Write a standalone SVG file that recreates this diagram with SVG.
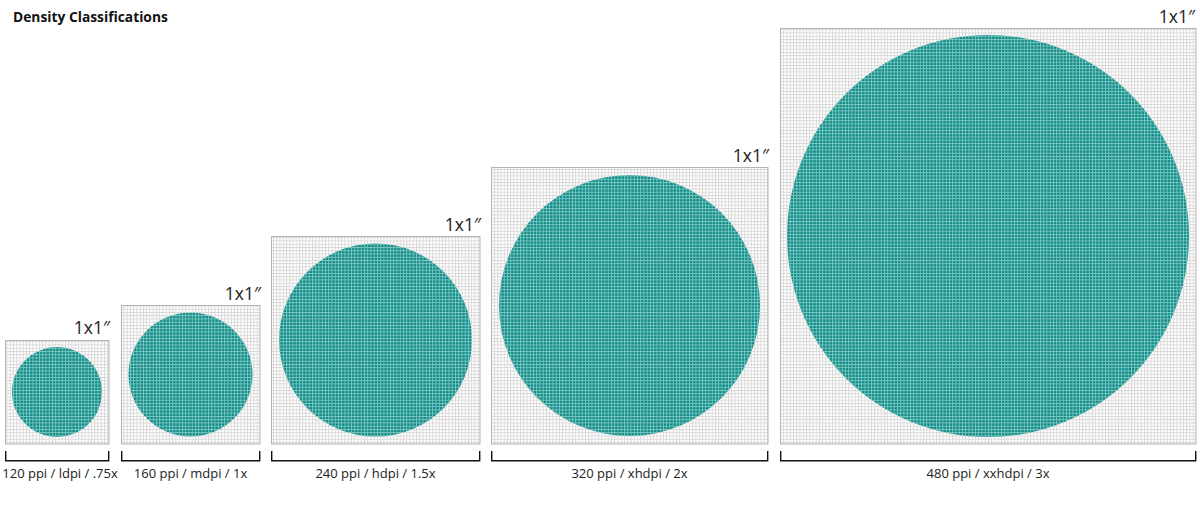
<svg xmlns="http://www.w3.org/2000/svg" width="1200" height="514" viewBox="0 0 1200 514">
<style>
.title{font-family:"Open Sans","Liberation Sans",sans-serif;font-size:13.8px;font-weight:700;fill:#111}
.size{font-family:"Open Sans","Liberation Sans",sans-serif;font-size:17.5px;fill:#222;text-anchor:end}
.lbl{font-family:"Open Sans","Liberation Sans",sans-serif;font-size:13px;fill:#222;text-anchor:middle}
.bg{fill:url(#gridW)}
.frame{fill:none;stroke:#b4b4b4;stroke-width:1}
.dot{fill:url(#gridT)}
.br{fill:none;stroke:#111;stroke-width:1.4}
</style>
<defs>
<pattern id="gridW" patternUnits="userSpaceOnUse" width="3.25" height="3.25">
<rect width="3.25" height="3.25" fill="#ffffff"/>
<rect width="0.9" height="3.25" fill="#d6d6d6"/>
<rect width="3.25" height="0.9" fill="#d6d6d6"/>
</pattern>
<pattern id="gridT" patternUnits="userSpaceOnUse" width="3.25" height="3.25">
<rect width="3.25" height="3.25" fill="#0f8b86"/>
<rect width="0.9" height="3.25" fill="#7ec7c3"/>
<rect width="3.25" height="0.9" fill="#7ec7c3"/>
</pattern>
</defs>
<rect width="1200" height="514" fill="#ffffff"/>
<text class="title" x="13" y="22">Density Classifications</text>

<g id="ldpi">
<rect class="bg" x="5" y="340" width="104" height="104"/>
<circle class="dot" cx="57" cy="392" r="45"/>
<rect class="frame" x="5.5" y="340.5" width="103.5" height="103.5"/>
<text class="size" x="110" y="334">1x1″</text>
<path class="br" d="M5.7,451 V460.7 H108.7 V451"/>
<text class="lbl" x="60" y="478">120 ppi / ldpi / .75x</text>
</g>

<g id="mdpi">
<rect class="bg" x="121" y="305" width="139" height="139"/>
<circle class="dot" cx="190.5" cy="374.5" r="62"/>
<rect class="frame" x="121.5" y="305.5" width="138.5" height="138.5"/>
<text class="size" x="261" y="300">1x1″</text>
<path class="br" d="M121.7,451 V460.7 H259.7 V451"/>
<text class="lbl" x="190.5" y="478">160 ppi / mdpi / 1x</text>
</g>

<g id="hdpi">
<rect class="bg" x="271" y="236" width="209" height="208"/>
<circle class="dot" cx="375.5" cy="340" r="96.5"/>
<rect class="frame" x="271.5" y="236.5" width="208.5" height="207.5"/>
<text class="size" x="481" y="231">1x1″</text>
<path class="br" d="M271.7,451 V460.7 H479.7 V451"/>
<text class="lbl" x="375.5" y="478">240 ppi / hdpi / 1.5x</text>
</g>

<g id="xhdpi">
<rect class="bg" x="491" y="167" width="277" height="277"/>
<circle class="dot" cx="629.5" cy="305.5" r="130.5"/>
<rect class="frame" x="491.5" y="167.5" width="276.5" height="276.5"/>
<text class="size" x="769" y="162">1x1″</text>
<path class="br" d="M491.7,451 V460.7 H767.7 V451"/>
<text class="lbl" x="629.5" y="478">320 ppi / xhdpi / 2x</text>
</g>

<g id="xxhdpi">
<rect class="bg" x="780" y="28" width="416" height="416"/>
<circle class="dot" cx="988" cy="236" r="201"/>
<rect class="frame" x="780.5" y="28.5" width="415.5" height="415.5"/>
<text class="size" x="1195" y="23">1x1″</text>
<path class="br" d="M780.7,451 V460.7 H1195.7 V451"/>
<text class="lbl" x="988" y="478">480 ppi / xxhdpi / 3x</text>
</g>

<g id="connectors"></g>
</svg>
